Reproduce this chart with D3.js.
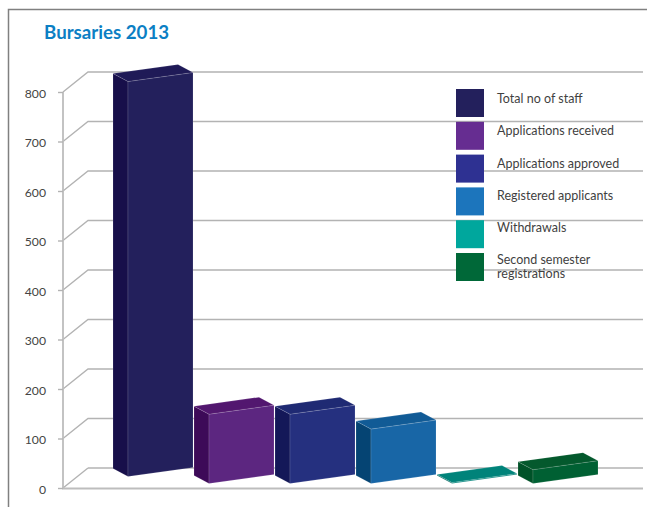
<!DOCTYPE html>
<html>
<head>
<meta charset="utf-8">
<script src="https://cdn.jsdelivr.net/npm/d3@7/dist/d3.min.js"></script>
<style>
  html, body { margin: 0; padding: 0; background: #fff; }
  svg { display: block; }
  text { font-family: Lato, "Open Sans", sans-serif; fill: #3f3f3f; }
</style>
</head>
<body>
<svg id="chart" width="647" height="507"></svg>
<script>
// Bursaries 2013 data
const categories = ["Total no of staff", "Applications received", "Applications approved",
                    "Registered applicants", "Withdrawals", "Second semester registrations"];
const values = [798, 140, 140, 110, 2, 28];
const yTicks = [0, 100, 200, 300, 400, 500, 600, 700, 800];
const frontColors = ["#23205c", "#5c2680", "#25307f", "#1866a6", "#00837a", "#006033"];
const sideColors  = ["#170f4a", "#3d0a58", "#141858", "#054473", "#00665f", "#005228"];
const topColors   = ["#1f1a57", "#52176f", "#1f2a73", "#115b96", "#00837a", "#04592d"];
const legendColors = ["#23205c", "#662d91", "#2e3192", "#1c75bc", "#00a79d", "#006838"];

const svg = d3.select("#chart");

// Frame: only the top and left rules are drawn
svg.append("path").attr("d", "M8.5,507V9.5H647")
  .attr("fill", "none").attr("stroke", "#808080").attr("stroke-width", 1.5);

svg.append("text").text("Bursaries 2013")
  .attr("x", 44).attr("y", 39)
  .style("font-size", "18.7px").style("font-weight", 700).style("fill", "#0b7fc4");

// Oblique projection of the chart box
const wallLeft = 63, depthX = 25, depthY = 20, plotRight = 643;
const y = d3.scaleLinear().domain([0, 800]).range([488, 92]);
const gridColor = "#b3b3b3";

const grid = svg.append("g").attr("fill", "none").attr("stroke", gridColor).attr("stroke-width", 1.4);
yTicks.forEach(t => {
  grid.append("path").attr("d",
    `M${wallLeft},${y(t)}L${wallLeft + depthX},${y(t) - depthY}` +
    (t === 0 ? "" : `H${plotRight}`));
});
grid.append("path").attr("d", `M${wallLeft + depthX},${y(0) - depthY}H${plotRight}`);
svg.append("path").attr("d", `M${wallLeft},${y(800)}V${y(0) + 0.5}H${plotRight}`)
  .attr("fill", "none").attr("stroke", "#bdbdbd").attr("stroke-width", 1.8);

// Value axis, offset from the wall so the ticks sit on its front edge
const axis = svg.append("g").attr("transform", `translate(${wallLeft},0)`)
  .call(d3.axisLeft(y).tickValues(yTicks).tickSize(5).tickPadding(12).tickFormat(d3.format("d")));
axis.select(".domain").remove();
axis.selectAll("line").attr("stroke", gridColor).attr("stroke-width", 1.4);
axis.selectAll("text").attr("dy", "0.42em").style("font-size", "12.2px").style("fill", "#444");

// Bars: an oblique box whose front face slants upward to the right
const band = d3.scaleBand().domain(categories).range([113, 599]);
const sideW = 15, sideH = 8, frontW = 65, slant = 9;
const baseLift = v => (v > 500 ? 11.5 : 4.5);

const bars = svg.append("g").selectAll("g").data(categories).join("g");
bars.each(function (name, i) {
  const g = d3.select(this);
  const v = values[i];
  const x0 = band(name);                  // back-left corner of the box
  const x1 = x0 + sideW;                  // front-left corner
  const x2 = x1 + frontW;                 // front-right corner
  const base = y(0) - baseLift(v);        // front-left corner on the floor
  const top = base - (y(0) - y(v));       // front-left corner at the value
  const edge = { stroke: "#ffffff", "stroke-opacity": 0.22, "stroke-width": 0.6, "stroke-linejoin": "round" };
  const face = (pts, fill) => {
    const p = g.append("polygon").attr("points", pts.map(q => q.join(",")).join(" ")).attr("fill", fill);
    Object.entries(edge).forEach(([k, val]) => p.attr(k, val));
  };
  face([[x0, top - sideH], [x1, top], [x1, base], [x0, base - sideH]], sideColors[i]);
  face([[x1, top], [x2, top - slant], [x2, base - slant], [x1, base]], frontColors[i]);
  face([[x0, top - sideH], [x0 + frontW, top - sideH - slant], [x2, top - slant], [x1, top]], topColors[i]);
});

// Legend
const legendY = d3.scalePoint().domain(categories).range([89, 253]);
const legend = svg.append("g").selectAll("g").data(categories).join("g")
  .attr("transform", d => `translate(456,${legendY(d)})`);
legend.append("rect").attr("width", 28).attr("height", 28)
  .attr("fill", (d, i) => legendColors[i]);
const labelOffset = [14, 13, 13, 13, 12, 11];
legend.each(function (d, i) {
  const t = d3.select(this).append("text").attr("x", 41).style("font-size", "12.5px");
  const lines = d === "Second semester registrations" ? ["Second semester", "registrations"] : [d];
  lines.forEach((line, k) => {
    t.append("tspan").attr("x", 41).attr("y", labelOffset[i] + k * 14).text(line);
  });
});
</script>
</body>
</html>
